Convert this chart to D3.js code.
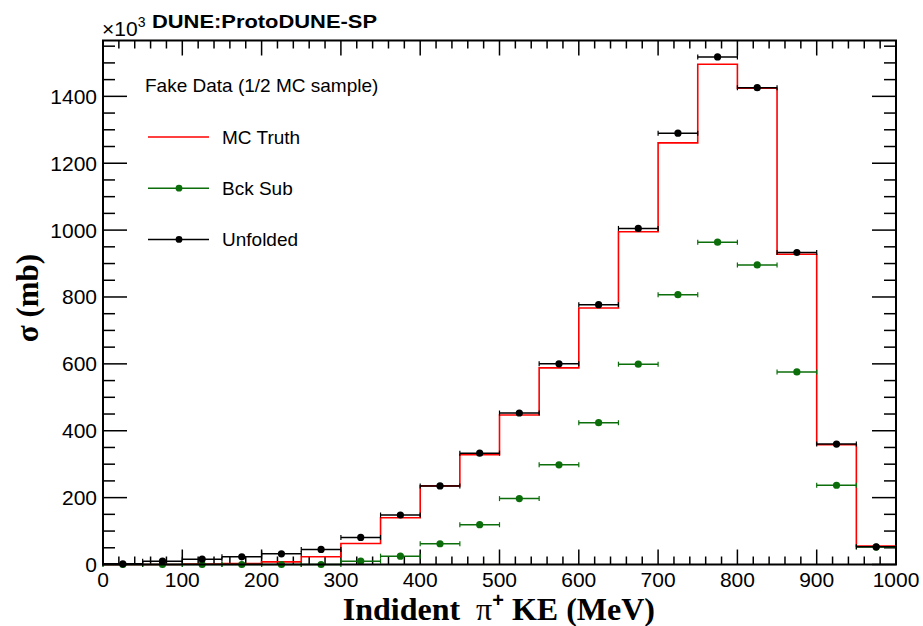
<!DOCTYPE html>
<html>
<head>
<meta charset="utf-8">
<script src="https://cdn.jsdelivr.net/npm/d3@7"></script>
<style>
  body { margin: 0; background: #fff; }
  svg { display: block; }
  .tick-label { font-family: "Liberation Sans", Arial, sans-serif; font-size: 21px; fill: #000; }
  .title { font-family: "Liberation Serif", "Times New Roman", serif; font-weight: bold; fill: #000; white-space: pre; }
  .legend { font-family: "Liberation Sans", Arial, sans-serif; font-size: 19px; fill: #000; }
</style>
</head>
<body>
<svg width="923" height="626"></svg>
<script>
// bins of 50 MeV, low edges
const binLow = [0, 50, 100, 150, 200, 250, 300, 350, 400, 450, 500, 550, 600, 650, 700, 750, 800, 850, 900, 950];
const binWidth = 50;

const mcTruth  = [0, 0, 1, 3, 8, 23, 63, 140, 235, 328, 447, 588, 767, 995, 1261, 1496, 1424, 928, 358, 55];
const bckSub   = [0, 0, 0, 0, 0, 0, 10, 25, 62, 119, 197, 298, 424, 599, 807, 964, 896, 576, 237, 52];
const unfolded = [2, 10, 16, 23, 32, 45, 81, 148, 235, 333, 453, 600, 777, 1005, 1290, 1518, 1426, 933, 360, 53];

const xTicks = [0, 100, 200, 300, 400, 500, 600, 700, 800, 900, 1000];
const yTicks = [0, 200, 400, 600, 800, 1000, 1200, 1400];

const legendItems = [
  { label: 'MC Truth', color: '#ff0000', marker: false },
  { label: 'Bck Sub', color: '#0b6e0b', marker: true },
  { label: 'Unfolded', color: '#000000', marker: true }
];

const svg = d3.select('svg');
const pLeft = 103, pRight = 896, pTop = 40.5, pBottom = 564.5;

const x = d3.scaleLinear().domain([0, 1000]).range([pLeft, pRight]);
const y = d3.scaleLinear().domain([0, 1567]).range([pBottom, pTop]);

// ticks on all four sides (ROOT style)
const xMinor = d3.range(0, 1001, 20);
const yMinor = d3.range(0, 1567, 50);
const tk = svg.append('g').attr('stroke', '#000').attr('stroke-width', 1.5);
xMinor.forEach(v => {
  const len = (v % 100 === 0) ? 15 : 8;
  tk.append('line').attr('x1', x(v)).attr('x2', x(v)).attr('y1', pBottom).attr('y2', pBottom - len);
  tk.append('line').attr('x1', x(v)).attr('x2', x(v)).attr('y1', pTop).attr('y2', pTop + len);
});
yMinor.forEach(v => {
  const len = (v % 200 === 0) ? 24 : 12;
  tk.append('line').attr('y1', y(v)).attr('y2', y(v)).attr('x1', pLeft).attr('x2', pLeft + len);
  tk.append('line').attr('y1', y(v)).attr('y2', y(v)).attr('x1', pRight).attr('x2', pRight - len);
});

// tick labels
svg.append('g').selectAll('text').data(xTicks).enter().append('text')
  .attr('class', 'tick-label')
  .attr('x', d => x(d)).attr('y', 587)
  .attr('text-anchor', 'middle')
  .text(d => d);
svg.append('g').selectAll('text').data(yTicks).enter().append('text')
  .attr('class', 'tick-label')
  .attr('x', 97).attr('y', d => y(d) + 7.5)
  .attr('text-anchor', 'end')
  .text(d => d);

// red histogram
const steps = [];
binLow.forEach((lo, i) => {
  steps.push([lo, mcTruth[i]]);
  steps.push([lo + binWidth, mcTruth[i]]);
});
const stepLine = d3.line().x(d => x(d[0])).y(d => y(d[1]));
svg.append('path')
  .attr('d', stepLine([[0, 0]].concat(steps, [[1000, 0]])))
  .attr('fill', 'none').attr('stroke', '#ff0000').attr('stroke-width', 1.6);

// points with horizontal error bars
const drawPoints = (vals, color) => {
  const g = svg.append('g');
  binLow.forEach((lo, i) => {
    const yy = y(vals[i]);
    g.append('line').attr('x1', x(lo)).attr('x2', x(lo + binWidth)).attr('y1', yy).attr('y2', yy)
      .attr('stroke', color).attr('stroke-width', 1.5);
    [lo, lo + binWidth].forEach(e => {
      g.append('line').attr('x1', x(e)).attr('x2', x(e)).attr('y1', yy - 2.5).attr('y2', yy + 2.5)
        .attr('stroke', color).attr('stroke-width', 1.2);
    });
    g.append('circle').attr('cx', x(lo + binWidth / 2)).attr('cy', yy).attr('r', 3.6).attr('fill', color);
  });
};
drawPoints(bckSub, '#0b6e0b');
drawPoints(unfolded, '#000000');

// frame
svg.append('rect').attr('x', pLeft).attr('y', pTop).attr('width', pRight - pLeft).attr('height', pBottom - pTop)
  .attr('fill', 'none').attr('stroke', '#000').attr('stroke-width', 2);

// legend
svg.append('text').attr('class', 'legend').attr('x', 145).attr('y', 92).text('Fake Data (1/2 MC sample)');
legendItems.forEach((d, i) => {
  const ly = 137 + i * 51.2;
  svg.append('line').attr('x1', 148).attr('x2', 209).attr('y1', ly).attr('y2', ly)
    .attr('stroke', d.color).attr('stroke-width', 1.5);
  if (d.marker) svg.append('circle').attr('cx', 179).attr('cy', ly).attr('r', 3.4).attr('fill', d.color);
  svg.append('text').attr('class', 'legend').attr('x', 222).attr('y', ly + 6.5).text(d.label);
});

// exponent and header
const ex = svg.append('text').attr('class', 'legend').attr('x', 102).attr('y', 36).style('font-size', '21px');
ex.append('tspan').text('\u00d710');
ex.append('tspan').attr('dy', -9).style('font-size', '14px').text('3');
svg.append('text').attr('x', 152).attr('y', 28)
  .attr('textLength', 225).attr('lengthAdjust', 'spacingAndGlyphs')
  .style('font-family', '"Liberation Sans", Arial, sans-serif').style('font-weight', 'bold').style('font-size', '19px')
  .text('DUNE:ProtoDUNE-SP');

// axis titles
const xt = svg.append('text').attr('class', 'title').attr('x', 655).attr('y', 620)
  .attr('text-anchor', 'end').style('font-size', '32px');
xt.append('tspan').text('Indident  ');
xt.append('tspan').style('font-weight', 'normal').text('\u03c0');
xt.append('tspan').attr('dy', -13).style('font-size', '20px').style('font-family', '"Liberation Sans", Arial, sans-serif').text('+');
xt.append('tspan').attr('dy', 13).text(' KE (MeV)');

svg.append('text').attr('class', 'title')
  .attr('transform', 'translate(38,298) rotate(-90)')
  .attr('text-anchor', 'middle').style('font-size', '31px')
  .text('\u03c3 (mb)');
</script>
</body>
</html>
